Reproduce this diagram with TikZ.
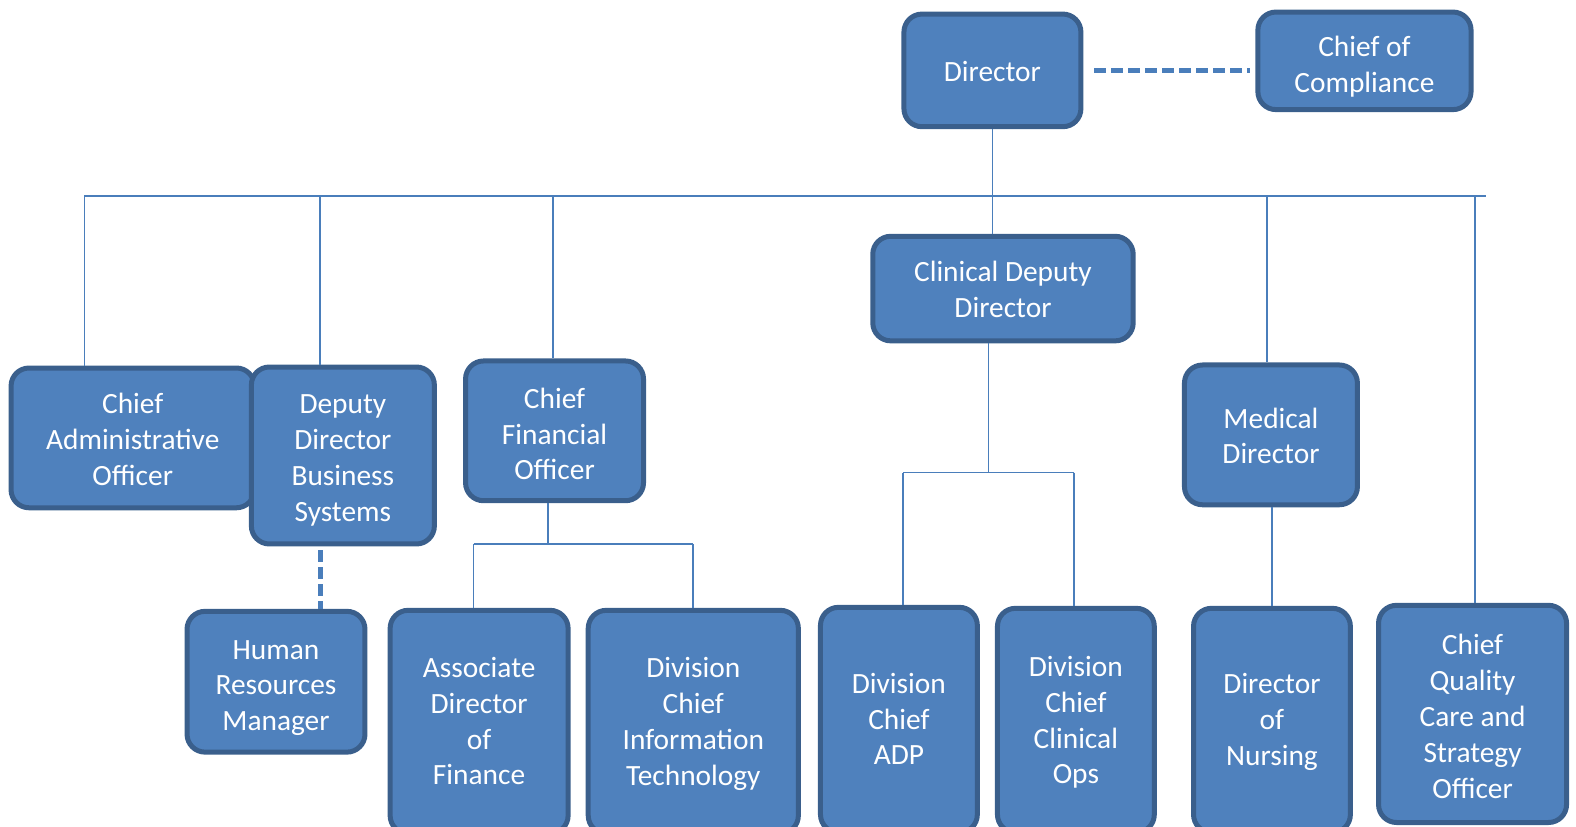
\documentclass[tikz,border=0pt]{standalone}
\usepackage{fontspec}
\setmainfont{Carlito}
\definecolor{boxfill}{HTML}{4F81BD}
\definecolor{boxline}{HTML}{3A5F8C}
\definecolor{conn}{HTML}{4A7EBB}
\newcommand\tx[2]{\raisebox{-#1pt}[\height][\depth]{\begin{tabular}{@{}c@{}}#2\end{tabular}}}
\begin{document}
\begin{tikzpicture}[x=1.0055bp,y=-1.0055bp,
  box/.style={draw=boxline, line width=5bp, fill=boxfill, rounded corners=18bp,
    text=white, align=center, font=\fontsize{29.5}{36}\selectfont, inner sep=0pt},
  bx/.style 2 args={minimum width=#1*1.0055bp, minimum height=#2*1.0055bp},
  link/.style={draw=conn, line width=1.8bp},
  dashlink/.style={draw=conn, line width=5bp, dash pattern=on 12bp off 5bp}]
\useasboundingbox (0bp,0bp) rectangle (1576bp,-827bp);
\begin{scope}
\clip (0bp,0bp) rectangle (1576bp,-827bp);
\coordinate (busL) at (84,195);
\coordinate (busR) at (1478,195);
\coordinate (b2) at (318,195);
\coordinate (b3) at (550,195);
\coordinate (b5) at (1260,195);
\coordinate (b6) at (1467,195);
\coordinate (hrtop) at (319,547);
\coordinate (cfoj) at (545,541);
\coordinate (cfoL) at (471,541);
\coordinate (cfoR) at (689,541);
\coordinate (cddj) at (983,470);
\coordinate (cddL) at (898,470);
\coordinate (cddR) at (1068,470);
\coordinate (mdj) at (1265,504);

% boxes
\node[box, bx={176}{112}] (dir) at (987,70) {\tx{3.5}{Director}};
\node[box, bx={212}{97}] (comp) at (1357,60.5) {\tx{6.5}{Chief of\\Compliance}};
\node[box, bx={242}{139}] (cao) at (132,435.5) {\tx{4.5}{Chief\\Administrative\\Officer}};
\node[box, bx={182}{176}] (ddbs) at (341,453) {\tx{5}{Deputy\\Director\\Business\\Systems}};
\node[box, bx={177}{139}] (cfo) at (551.5,428.5) {\tx{6}{Chief\\Financial\\Officer}};
\node[box, bx={259}{104}] (cdd) at (997.5,287) {\tx{3.5}{Clinical Deputy\\Director}};
\node[box, bx={172}{139}] (md) at (1264,432.5) {\tx{4}{Medical\\Director}};
\node[box, bx={187}{216}] (cq) at (1464.5,710) {\tx{5.5}{Chief\\Quality\\Care and\\Strategy\\Officer}};
\node[box, bx={177}{140}] (hrm) at (274.5,678) {\tx{6}{Human\\Resources\\Manager}};
\node[box, bx={177}{222}] (adf) at (476.5,718) {\tx{2}{Associate\\Director\\of\\Finance}};
\node[box, bx={209}{222}] (dcit) at (689.5,718) {\tx{2.5}{Division\\Chief\\Information\\Technology}};
\node[box, bx={156}{224}] (adp) at (894,716) {\tx{2}{Division\\Chief\\ADP}};
\node[box, bx={156}{223}] (dcco) at (1070,716.5) {\tx{2.5}{Division\\Chief\\Clinical\\Ops}};
\node[box, bx={156}{223}] (dn) at (1265,716.5) {\tx{2}{Director\\of\\Nursing}};

% links
\draw[link] (busL) -- (busR);
\draw[link] (dir.south) -- (dir.south |- cdd.north);
\draw[link] (busL) -- (busL |- cao.north);
\draw[link] (b2) -- (b2 |- ddbs.north);
\draw[link] (b3) -- (b3 |- cfo.north);
\draw[link] (b5) -- (b5 |- md.north);
\draw[link] (b6) -- (b6 |- cq.north);
\draw[dashlink] ([xshift=11bp]dir.east) -- ([xshift=-5bp]comp.west |- dir.east);
\draw[dashlink] (hrtop) -- (hrtop |- hrm.north);
\draw[link] (cfoj |- cfo.south) -- (cfoj);
\draw[link] (cfoL) -- (cfoR);
\draw[link] (cfoL) -- (cfoL |- adf.north);
\draw[link] (cfoR) -- (cfoR |- dcit.north);
\draw[link] (cddj |- cdd.south) -- (cddj);
\draw[link] (cddL) -- (cddR);
\draw[link] (cddL) -- (cddL |- adp.north);
\draw[link] (cddR) -- (cddR |- dcco.north);
\draw[link] (mdj) -- (mdj |- dn.north);
\end{scope}
\end{tikzpicture}
\end{document}
